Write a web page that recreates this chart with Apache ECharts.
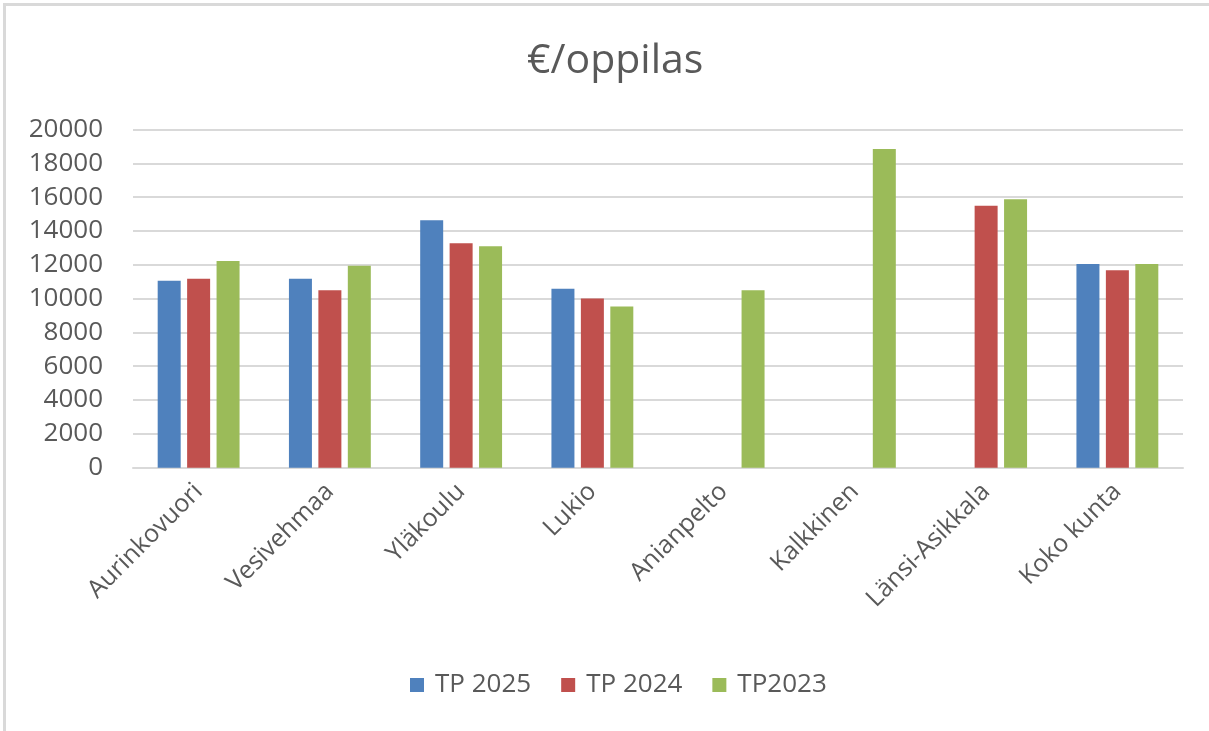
<!DOCTYPE html>
<html>
<head>
<meta charset="utf-8">
<title>€/oppilas</title>
<script src="https://cdn.jsdelivr.net/npm/echarts@6/dist/echarts.min.js"></script>
<style>
  html, body { margin: 0; padding: 0; background: #fff; overflow: hidden; }
  #chart { width: 1209px; height: 731px; }
  #frame {
    position: absolute; left: 3px; top: 3px; width: 1300px; height: 800px;
    border-left: 3px solid #d9d9d9; border-top: 3px solid #d9d9d9;
    pointer-events: none;
  }
</style>
</head>
<body>
<div id="chart"></div>
<div id="frame"></div>
<script>
const categories = ['Aurinkovuori', 'Vesivehmaa', 'Yläkoulu', 'Lukio', 'Anianpelto', 'Kalkkinen', 'Länsi-Asikkala', 'Koko kunta'];
const tp2025 = [11050, 11170, 14640, 10580, null, null, null, 12050];
const tp2024 = [11170, 10500, 13280, 10010, null, null, 15490, 11670];
const tp2023 = [12220, 11940, 13090, 9540, 10500, 18840, 15880, 12050];
const seriesNames = ['TP 2025', 'TP 2024', 'TP2023'];
const colors = ['#4f81bd', '#c0504d', '#9bbb59'];

const font = '"Open Sans", "Noto Sans", sans-serif';
const textColor = '#595959';

const chart = echarts.init(document.getElementById('chart'));

const mkSeries = (name, data, color) => ({
  name,
  type: 'bar',
  data,
  barWidth: 23,
  barGap: '28%',
  itemStyle: { color },
  emphasis: { disabled: true }
});

chart.setOption({
  backgroundColor: '#fff',
  animation: false,
  title: {
    text: '€/oppilas',
    left: 522,
    top: 36,
    textStyle: { fontFamily: font, fontSize: 41, fontWeight: 'normal', color: textColor }
  },
  legend: {
    bottom: 28,
    left: 405,
    itemWidth: 14,
    itemHeight: 14,
    itemGap: 30,
    icon: 'rect',
    textStyle: { fontFamily: font, fontSize: 26, color: textColor, padding: [0, 0, 0, 6] },
    data: seriesNames
  },
  grid: { left: 133, right: 26, top: 129.5, bottom: 263.3 },
  xAxis: {
    type: 'category',
    data: categories,
    axisLine: { lineStyle: { color: '#d9d9d9', width: 2 } },
    axisTick: { show: false },
    axisLabel: {
      rotate: 45,
      margin: 20,
      interval: 0,
      fontFamily: font,
      fontSize: 25,
      color: textColor
    }
  },
  yAxis: {
    type: 'value',
    min: 0,
    max: 20000,
    interval: 2000,
    axisLine: { show: false },
    axisTick: { show: false },
    splitLine: { lineStyle: { color: '#d9d9d9', width: 2 } },
    axisLabel: {
      margin: 30,
      fontFamily: font,
      fontSize: 26,
      color: textColor,
      formatter: (v) => String(v)
    }
  },
  series: [
    mkSeries(seriesNames[0], tp2025, colors[0]),
    mkSeries(seriesNames[1], tp2024, colors[1]),
    mkSeries(seriesNames[2], tp2023, colors[2])
  ]
});
</script>
</body>
</html>
